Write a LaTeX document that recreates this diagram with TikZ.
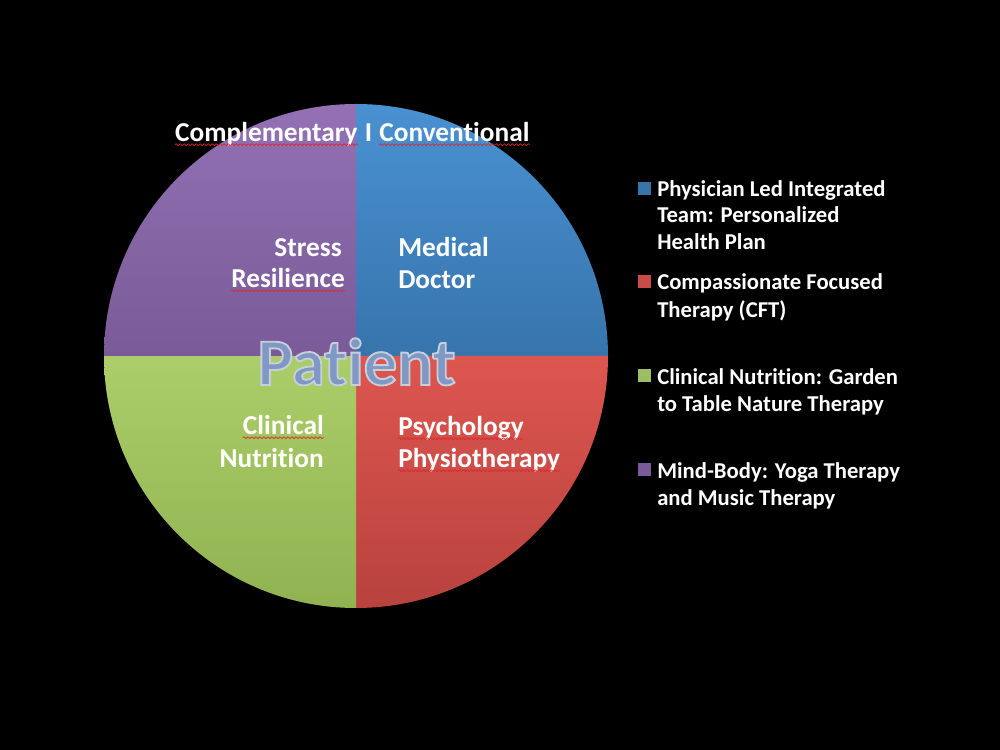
\documentclass[tikz,border=0pt]{standalone}
\usepackage{fontspec}
\setmainfont{Carlito}[Ligatures=NoCommon]
\usetikzlibrary{decorations.pathmorphing}
\definecolor{blueT}{RGB}{74,145,210}
\definecolor{blueB}{RGB}{55,116,172}
\definecolor{redT}{RGB}{222,86,80}
\definecolor{redB}{RGB}{184,66,62}
\definecolor{greenT}{RGB}{171,206,106}
\definecolor{greenB}{RGB}{144,178,80}
\definecolor{purpleT}{RGB}{147,113,180}
\definecolor{purpleB}{RGB}{122,90,152}
\definecolor{patfill}{RGB}{127,152,196}
\definecolor{squigred}{RGB}{220,40,40}
\newcommand{\outlinedtext}[1]{{\color{patfill}\special{pdf:code 2 Tr 1.4 w 0.78 0.81 0.86 RG}#1\special{pdf:code 0 Tr}}}
\begin{document}
\begin{tikzpicture}[x=0.75pt,y=0.75pt,
  lab/.style={font=\fontsize{20.5}{24}\selectfont\bfseries, text=white, inner sep=0},
  leg/.style={font=\fontsize{17}{20}\selectfont\bfseries, text=white, inner sep=0, anchor=base west},
  legbox/.style={minimum size=9.75pt, inner sep=0, anchor=center},
  squig/.style={draw=squigred, line width=0.5pt, decorate, decoration={snake, amplitude=0.7pt, segment length=3pt}}]
\fill[black] (0,0) rectangle (1000,750);
\useasboundingbox (0,0) rectangle (1000,750);
\coordinate (c) at (356,394);
% pie quadrants
\shade[top color=blueT,bottom color=blueB] (c) -- ++(0,252) arc[start angle=90,end angle=0,radius=252] -- cycle;
\shade[top color=redT,bottom color=redB] (c) -- ++(252,0) arc[start angle=0,end angle=-90,radius=252] -- cycle;
\shade[top color=greenT,bottom color=greenB] (c) -- ++(0,-252) arc[start angle=270,end angle=180,radius=252] -- cycle;
\shade[top color=purpleT,bottom color=purpleB] (c) -- ++(-252,0) arc[start angle=180,end angle=90,radius=252] -- cycle;
% title
\node[lab,anchor=base] (bar) at (368.5,608) {I};
\node[lab,anchor=base east] (comp) at ([xshift=-5pt]bar.base west) {Complementary};
\node[lab,anchor=base west] (conv) at ([xshift=5pt]bar.base east) {Conventional};
% quadrant labels
\node[lab,anchor=base east] (stress) at (342,493) {Stress};
\node[lab,anchor=base east] (resil) at (345,462) {Resilience};
\node[lab,anchor=base west] (med) at (398,493) {Medical};
\node[lab,anchor=base west] (doc) at (398,461) {Doctor};
\node[lab,anchor=base east] (clin) at (324,315) {Clinical};
\node[lab,anchor=base east] (nutr) at (324,282) {Nutrition};
\node[lab,anchor=base west] (psy) at (398,314) {Psychology};
\node[lab,anchor=base west] (phys) at (398,282) {Physiotherapy};
% centre
\node[inner sep=0,anchor=base,font=\fontsize{50}{56}\selectfont\bfseries] (pat) at (356.5,365) {\outlinedtext{Patient}};
% spell-check squiggles
\foreach \w in {comp,conv,resil,clin,psy,phys}
  \draw[squig] ([yshift=-2pt]\w.base west) -- ([yshift=-2pt]\w.base east);
% legend
\node[legbox,fill=blueB] (sq1) at (644.5,561.5) {};
\node[legbox,fill=redT!90!black] (sq2) at (644.5,468.5) {};
\node[legbox,fill=greenT!92!black] (sq3) at (644.5,374.5) {};
\node[legbox,fill=purpleB] (sq4) at (644.5,280) {};
\node[leg] (l1a) at (657,553) {Physician Led Integrated};
\node[leg] (l1b) at (657,527) {Team: Personalized};
\node[leg] (l1c) at (657,500) {Health Plan};
\node[leg] (l2a) at (657,460) {Compassionate Focused};
\node[leg] (l2b) at (657,432) {Therapy (CFT)};
\node[leg] (l3a) at (657,365) {Clinical Nutrition: Garden};
\node[leg] (l3b) at (657,338) {to Table Nature Therapy};
\node[leg] (l4a) at (657,271) {Mind-Body: Yoga Therapy};
\node[leg] (l4b) at (657,244) {and Music Therapy};
\end{tikzpicture}
\end{document}
